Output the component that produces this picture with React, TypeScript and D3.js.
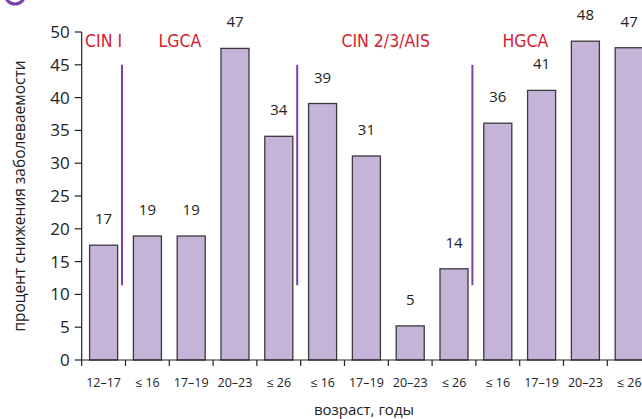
import React from 'react';
import * as d3 from 'd3';

const categories = ['12–17', '≤ 16', '17–19', '20–23', '≤ 26', '≤ 16', '17–19', '20–23', '≤ 26', '≤ 16', '17–19', '20–23', '≤ 26'];
const values = [17.5, 18.9, 18.9, 47.5, 34.1, 39.1, 31.1, 5.2, 13.9, 36.1, 41.1, 48.6, 47.6];
const valueLabels = ['17', '19', '19', '47', '34', '39', '31', '5', '14', '36', '41', '48', '47'];
const yTicks = [0, 5, 10, 15, 20, 25, 30, 35, 40, 45, 50];
// group names, positioned in band steps from the axis
const groups = ['CIN I', 'LGCA', 'CIN 2/3/AIS', 'HGCA'];
const groupPos = [0.5, 2.24, 6.94, 10.13];
// separators sit before these bars, from 45 down to ~11.4
const separatorBefore = [1, 5, 9];
const separatorRange = [45, 11.4];

const W = 642;
const H = 419;
const left = 81.7;
const step = 43.8;

export default function App() {
  const x = d3.scaleBand<number>()
    .domain(d3.range(categories.length))
    .range([left, left + step * categories.length])
    .paddingInner(0.36)
    .paddingOuter(0.18);
  const y = d3.scaleLinear().domain([0, 50]).range([360, 32]);
  const boundary = (i: number) => left + i * x.step();

  const font = '"Open Sans", "Noto Sans", sans-serif';
  const narrow = '"Liberation Sans Narrow", "DejaVu Sans Condensed", sans-serif';

  return (
    <svg width={W} height={H} style={{ position: 'absolute', left: 0, top: 0 }} fontFamily={font}>
      <rect width={W} height={H} fill="#fff" />
      {/* cropped corner badge */}
      <circle cx={15} cy={-6} r={10} fill="none" stroke="#7a3fa8" strokeWidth={3} />

      {/* bars */}
      {values.map((v, i) => (
        <rect key={i} x={x(i)} y={y(v)} width={x.bandwidth()} height={y(0) - y(v)}
          fill="#c5b3d8" stroke="#3a3a3a" strokeWidth={1.3} />
      ))}

      {/* value labels */}
      {values.map((v, i) => (
        <text key={i} x={x(i)! + x.bandwidth() / 2} y={y(v) - 21} textAnchor="middle"
          fontSize={15} fill="#222">{valueLabels[i]}</text>
      ))}

      {/* separators */}
      {separatorBefore.map((b) => (
        <line key={b} x1={boundary(b) - 3.5} x2={boundary(b) - 3.5}
          y1={y(separatorRange[0])} y2={y(separatorRange[1])} stroke="#7a3fa8" strokeWidth={2} />
      ))}

      {/* group names */}
      {groups.map((g, i) => (
        <text key={g} x={left + groupPos[i] * step} y={y(50) + 15} textAnchor="middle"
          fontSize={17.5} fill="#d3202e" fontFamily={narrow}>{g}</text>
      ))}

      {/* y axis */}
      <line x1={left} x2={left} y1={y(50)} y2={y(0)} stroke="#222" strokeWidth={1.2} />
      {yTicks.map((t) => (
        <g key={t}>
          <line x1={left - 7} x2={left} y1={y(t)} y2={y(t)} stroke="#222" strokeWidth={1.2} />
          <text x={left - 12} y={y(t)} dy="0.35em" textAnchor="end" fontSize={17} fill="#222">{t}</text>
        </g>
      ))}

      {/* x axis */}
      <line x1={left} x2={W} y1={y(0)} y2={y(0)} stroke="#222" strokeWidth={1.2} />
      {d3.range(categories.length + 1).map((i) => (
        <line key={i} x1={boundary(i)} x2={boundary(i)} y1={y(0)} y2={y(0) + 6} stroke="#222" strokeWidth={1.2} />
      ))}
      {categories.map((c, i) => (
        <text key={i} x={boundary(i) + step / 2} y={387} textAnchor="middle" fontSize={12.5} fill="#222">{c}</text>
      ))}

      <text x={364} y={415} textAnchor="middle" fontSize={15} fill="#222">возраст, годы</text>
      <text transform="translate(25,196) rotate(-90)" textAnchor="middle" fontSize={15.5} fill="#222">
        процент снижения заболеваемости
      </text>
    </svg>
  );
}
